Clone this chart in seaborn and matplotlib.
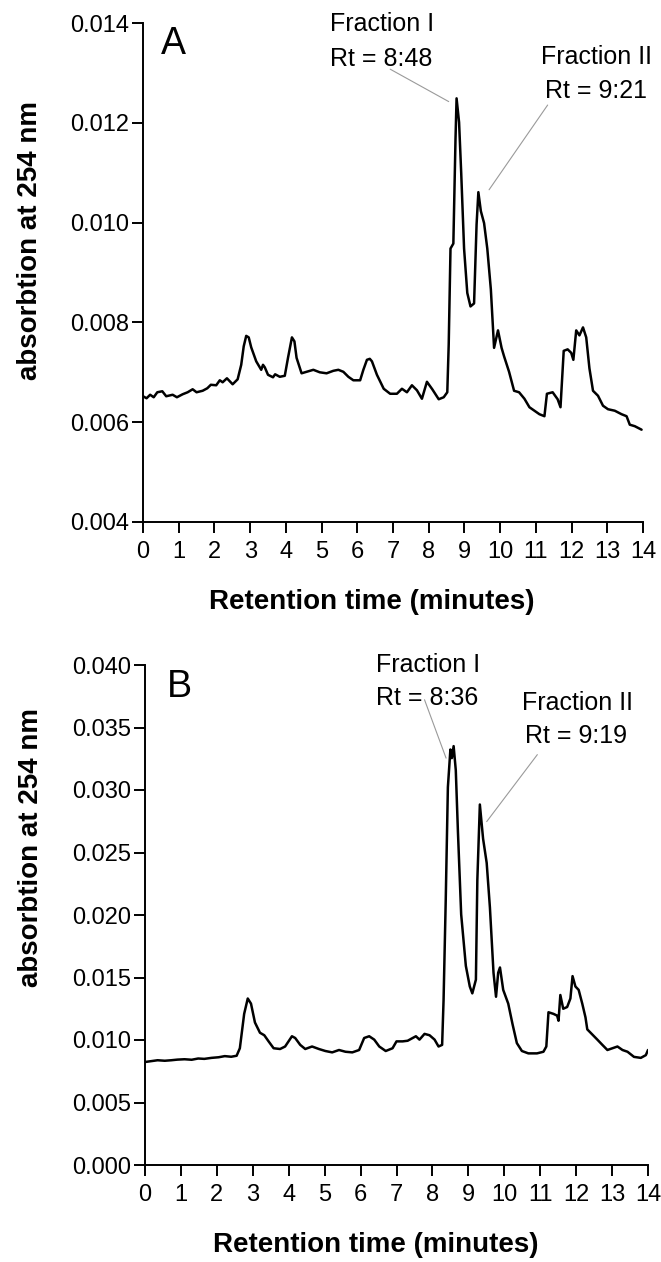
import matplotlib
matplotlib.use("Agg")
import matplotlib.pyplot as plt
import seaborn as sns
import numpy as np
import pandas as pd

# ---------------- data ----------------
time_a = [0.00, 0.10, 0.20, 0.30, 0.40, 0.54, 0.65, 0.83, 0.95, 1.11, 1.25, 1.39, 1.50, 1.67,
          1.80, 1.90, 2.05, 2.15, 2.23, 2.35, 2.51, 2.65, 2.75, 2.82, 2.89, 2.96, 3.03, 3.17,
          3.31, 3.36, 3.41, 3.50, 3.64, 3.70, 3.83, 3.97, 4.06, 4.17, 4.24, 4.30, 4.44, 4.58,
          4.77, 4.95, 5.14, 5.33, 5.47, 5.61, 5.75, 5.89, 6.08, 6.17, 6.27, 6.35, 6.41, 6.55,
          6.74, 6.92, 7.11, 7.25, 7.39, 7.53, 7.67, 7.81, 7.95, 8.10, 8.28, 8.42, 8.52, 8.56,
          8.61, 8.69, 8.75, 8.78, 8.85, 8.91, 8.99, 9.08, 9.17, 9.27, 9.34, 9.39, 9.46, 9.55,
          9.64, 9.74, 9.83, 9.94, 10.04, 10.11, 10.25, 10.39, 10.53, 10.68, 10.82, 10.96, 11.10,
          11.24, 11.31, 11.47, 11.61, 11.69, 11.78, 11.89, 11.99, 12.05, 12.13, 12.22, 12.32,
          12.41, 12.50, 12.60, 12.74, 12.88, 13.02, 13.21, 13.40, 13.54, 13.63, 13.77, 13.96]
abs_a = [0.00652, 0.00648, 0.00655, 0.00650, 0.00660, 0.00662, 0.00652, 0.00655, 0.00650, 0.00656,
         0.00660, 0.00666, 0.00660, 0.00663, 0.00668, 0.00675, 0.00674, 0.00684, 0.00680, 0.00688,
         0.00676, 0.00686, 0.00715, 0.00752, 0.00773, 0.00770, 0.00750, 0.00722, 0.00705, 0.00715,
         0.00710, 0.00695, 0.00690, 0.00696, 0.00691, 0.00693, 0.00729, 0.00770, 0.00762, 0.00729,
         0.00698, 0.00701, 0.00705, 0.00700, 0.00698, 0.00703, 0.00705, 0.00701, 0.00691, 0.00684,
         0.00684, 0.00705, 0.00725, 0.00727, 0.00722, 0.00695, 0.00667, 0.00657, 0.00657, 0.00667,
         0.00660, 0.00674, 0.00664, 0.00647, 0.00681, 0.00666, 0.00646, 0.00650, 0.00660, 0.00756,
         0.00948, 0.00958, 0.01167, 0.01249, 0.01201, 0.01099, 0.00948, 0.00859, 0.00832, 0.00838,
         0.00996, 0.01061, 0.01023, 0.00999, 0.00948, 0.00866, 0.00749, 0.00784, 0.00749, 0.00732,
         0.00701, 0.00663, 0.00660, 0.00647, 0.00630, 0.00623, 0.00616, 0.00612, 0.00657, 0.00660,
         0.00646, 0.00630, 0.00743, 0.00746, 0.00739, 0.00725, 0.00784, 0.00774, 0.00790, 0.00770,
         0.00708, 0.00663, 0.00653, 0.00633, 0.00626, 0.00623, 0.00616, 0.00612, 0.00595, 0.00592,
         0.00585]

time_b = [0.00, 0.20, 0.35, 0.55, 0.73, 0.90, 1.10, 1.30, 1.48, 1.65, 1.85, 2.05, 2.22, 2.40,
          2.55, 2.64, 2.76, 2.86, 2.95, 3.06, 3.20,
          3.32, 3.44, 3.58, 3.76, 3.90, 4.09, 4.18, 4.32, 4.46, 4.65, 4.84, 5.02, 5.21, 5.40,
          5.58, 5.77, 5.96, 6.10, 6.24, 6.38, 6.52, 6.70, 6.89, 7.00, 7.17, 7.31, 7.45, 7.54,
          7.64, 7.78, 7.92, 8.06, 8.17, 8.27, 8.31, 8.37, 8.43, 8.50, 8.54, 8.59, 8.65, 8.71,
          8.80, 8.93, 9.04, 9.11, 9.21, 9.25, 9.32, 9.41, 9.51, 9.60, 9.70, 9.77, 9.83, 9.88,
          9.97, 10.11, 10.23, 10.35, 10.49, 10.67, 10.91, 11.09, 11.17, 11.23, 11.37, 11.47,
          11.51, 11.56, 11.64, 11.75, 11.84, 11.90, 11.98, 12.07, 12.17, 12.26, 12.31, 12.45,
          12.59, 12.73, 12.87, 13.01, 13.15, 13.29, 13.43, 13.61, 13.80, 13.94, 14.00]
abs_b = [0.00824, 0.00832, 0.00838, 0.00834, 0.00838, 0.00843, 0.00846, 0.00842, 0.00852, 0.00849,
         0.00857, 0.00862, 0.00871, 0.00866, 0.00874, 0.00934, 0.01209,
         0.01332, 0.01291, 0.01140, 0.01058, 0.01038, 0.00989, 0.00934, 0.00928, 0.00948, 0.01030,
         0.01016, 0.00961, 0.00928, 0.00948, 0.00928, 0.00912, 0.00901, 0.00920, 0.00906, 0.00901,
         0.00920, 0.01016, 0.01030, 0.01003, 0.00948, 0.00912, 0.00934, 0.00989, 0.00989, 0.00994,
         0.01016, 0.01030, 0.01003, 0.01049, 0.01038, 0.01003, 0.00948, 0.00961, 0.01319, 0.02115,
         0.03022, 0.03324, 0.03255, 0.03351, 0.03159, 0.02665, 0.02005, 0.01593, 0.01428, 0.01373,
         0.01483, 0.02280, 0.02884, 0.02610, 0.02417, 0.02060, 0.01538, 0.01346, 0.01538, 0.01580,
         0.01401, 0.01291, 0.01126, 0.00975, 0.00912, 0.00893, 0.00893, 0.00906, 0.00948, 0.01222,
         0.01209, 0.01195, 0.01154, 0.01360, 0.01250, 0.01264, 0.01332, 0.01511, 0.01428, 0.01401,
         0.01291, 0.01181, 0.01085, 0.01044, 0.01003, 0.00961, 0.00920, 0.00934, 0.00948, 0.00920,
         0.00906, 0.00865, 0.00857, 0.00879, 0.00920]

x_ticks = list(range(0, 15))
y_ticks_a = [0.004, 0.006, 0.008, 0.010, 0.012, 0.014]
y_ticks_b = [0.000, 0.005, 0.010, 0.015, 0.020, 0.025, 0.030, 0.035, 0.040]

panel_labels = ["A", "B"]
frac_text_a = ["Fraction I", "Rt = 8:48", "Fraction II", "Rt = 9:21"]
frac_text_b = ["Fraction I", "Rt = 8:36", "Fraction II", "Rt = 9:19"]
xlabel = "Retention time (minutes)"
ylabel = "absorbtion at 254 nm"

# ---------------- style ----------------
sns.set_style("ticks")
plt.rcParams["font.family"] = ["Liberation Sans", "DejaVu Sans"]
plt.rcParams["text.color"] = "black"
plt.rcParams["axes.labelcolor"] = "black"
plt.rcParams["xtick.color"] = "black"
plt.rcParams["ytick.color"] = "black"

fig = plt.figure(figsize=(6.61, 12.62), dpi=100)
axA = fig.add_axes([143 / 661, 1 - 522 / 1262, 500 / 661, 499 / 1262])
axB = fig.add_axes([145 / 661, 1 - 1165 / 1262, 503 / 661, 500 / 1262])

dfA = pd.DataFrame({"t": time_a, "a": abs_a})
dfB = pd.DataFrame({"t": time_b, "a": abs_b})
sns.lineplot(data=dfA, x="t", y="a", ax=axA, color="black", lw=1.8, sort=False)
sns.lineplot(data=dfB, x="t", y="a", ax=axB, color="black", lw=1.8, sort=False)


def style_axis(ax, yticks, ylim, label_y):
    ax.set_xlim(0, 14)
    ax.set_ylim(*ylim)
    ax.set_xticks(x_ticks)
    ax.set_xticklabels([str(t) for t in x_ticks])
    ax.set_yticks(yticks)
    ax.set_yticklabels([f"{v:.3f}" for v in yticks])
    for s in ["top", "right"]:
        ax.spines[s].set_visible(False)
    for s in ["left", "bottom"]:
        ax.spines[s].set_linewidth(1.4)
        ax.spines[s].set_color("black")
    ax.tick_params(axis="both", direction="out", length=8, width=1.4, color="black",
                   labelsize=17, labelcolor="black")
    ax.tick_params(axis="x", pad=6)
    ax.tick_params(axis="y", pad=2)
    ax.set_xlabel(xlabel, fontsize=20, fontweight="bold", color="black")
    ax.set_ylabel(ylabel, fontsize=20, fontweight="bold", color="black")
    ax.xaxis.set_label_coords(0.458, -0.135)
    ax.yaxis.set_label_coords(-0.20, label_y)
    ax.grid(False)


style_axis(axA, y_ticks_a, (0.004, 0.014), 0.565)
style_axis(axB, y_ticks_b, (0.0, 0.040), 0.635)

lead = dict(color="#9a9a9a", lw=0.8)
fs = 18

# Panel A annotations
axA.text(0.50, 0.01393, panel_labels[0], fontsize=27, va="top", ha="left", color="black")
axA.text(5.23, 0.01383, frac_text_a[0], fontsize=fs, va="baseline", ha="left", color="black")
axA.text(5.23, 0.013144, frac_text_a[1], fontsize=fs, va="baseline", ha="left", color="black")
axA.text(11.14, 0.013178, frac_text_a[2], fontsize=fs, va="baseline", ha="left", color="black")
axA.text(11.26, 0.012493, frac_text_a[3], fontsize=fs, va="baseline", ha="left", color="black")
axA.plot([6.92, 8.56], [0.013075, 0.012425], **lead)
axA.plot([11.33, 9.69], [0.012356, 0.010658], **lead)

# Panel B annotations
axB.text(0.62, 0.03969, panel_labels[1], fontsize=27, va="top", ha="left", color="black")
axB.text(6.44, 0.03942, frac_text_b[0], fontsize=fs, va="baseline", ha="left", color="black")
axB.text(6.44, 0.03681, frac_text_b[1], fontsize=fs, va="baseline", ha="left", color="black")
axB.text(10.49, 0.0364, frac_text_b[2], fontsize=fs, va="baseline", ha="left", color="black")
axB.text(10.58, 0.03379, frac_text_b[3], fontsize=fs, va="baseline", ha="left", color="black")
axB.plot([7.78, 8.38], [0.03722, 0.03255], **lead)
axB.plot([10.92, 9.51], [0.03283, 0.02747], **lead)

fig.savefig("out.png", dpi=100, facecolor="white")
